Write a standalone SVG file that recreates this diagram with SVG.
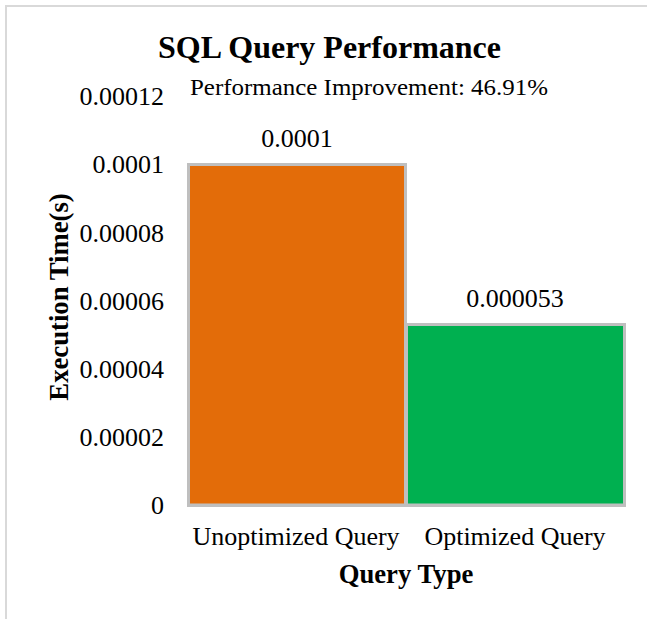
<svg xmlns="http://www.w3.org/2000/svg" width="647" height="619" viewBox="0 0 647 619">
<style>
text{font-family:"Liberation Serif","Times New Roman",serif;fill:#000}
.tick{font-size:26px;text-anchor:end}
.cat{font-size:26px;text-anchor:middle}
.lbl{font-size:26px;text-anchor:middle}
.bar{stroke:#bfbfbf;stroke-width:3}
</style>
<rect x="0" y="0" width="647" height="619" fill="#fff"/>
<g id="frame" fill="none" stroke="#d9d9d9" stroke-width="2">
<path d="M6 619 V6 H647"/>
</g>
<text x="329.5" y="58" font-size="32" font-weight="bold" text-anchor="middle">SQL Query Performance</text>
<text x="190" y="95" font-size="24" fill="#262626" textLength="358" lengthAdjust="spacingAndGlyphs">Performance Improvement: 46.91%</text>
<g id="yaxis">
<text class="tick" x="164" y="105">0.00012</text>
<text class="tick" x="164" y="173">0.0001</text>
<text class="tick" x="164" y="242">0.00008</text>
<text class="tick" x="164" y="310">0.00006</text>
<text class="tick" x="164" y="378">0.00004</text>
<text class="tick" x="164" y="446">0.00002</text>
<text class="tick" x="164" y="514">0</text>
<text transform="translate(68,297) rotate(-90)" font-size="26.7" font-weight="bold" text-anchor="middle">Execution Time(s)</text>
</g>
<g id="bar-unoptimized">
<rect class="bar" x="188.5" y="164.5" width="217" height="341" fill="#e36c09"/>
<text class="lbl" x="297" y="147">0.0001</text>
</g>
<g id="bar-optimized">
<rect class="bar" x="406.5" y="324.5" width="218" height="181" fill="#00b050"/>
<text class="lbl" x="515" y="307">0.000053</text>
</g>
<g id="connectors">
<line x1="187" y1="505" x2="626" y2="505" stroke="#bfbfbf" stroke-width="3"/>
</g>
<g id="xaxis">
<text class="cat" x="296" y="545">Unoptimized Query</text>
<text class="cat" x="515" y="545">Optimized Query</text>
<text x="406" y="583" font-size="26.7" font-weight="bold" text-anchor="middle">Query Type</text>
</g>
</svg>
